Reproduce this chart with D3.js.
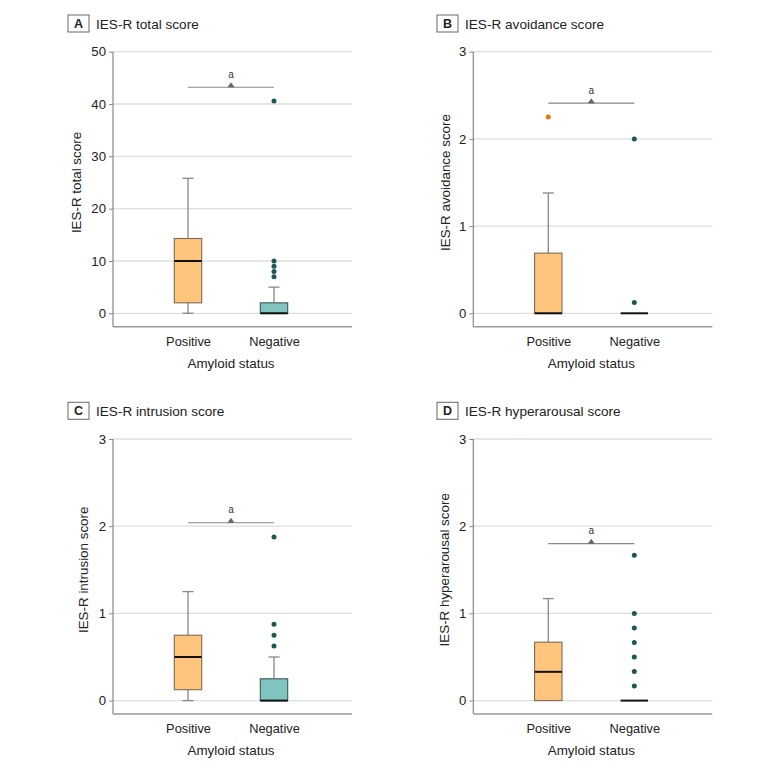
<!DOCTYPE html>
<html>
<head>
<meta charset="utf-8">
<script src="https://cdn.jsdelivr.net/npm/d3@7"></script>
<style>
  html, body { margin: 0; padding: 0; background: #fff; }
  svg { display: block; font-family: "Liberation Sans", Arial, sans-serif; }
</style>
</head>
<body>
<svg id="chart" width="780" height="771"></svg>
<script>
// ---------- data ----------
const categories = ["Positive", "Negative"];
const panelLetters = ["A", "B", "C", "D"];
const panelTitles = ["IES-R total score", "IES-R avoidance score", "IES-R intrusion score", "IES-R hyperarousal score"];
const yAxisTitles = ["IES-R total score", "IES-R avoidance score", "IES-R intrusion score", "IES-R hyperarousal score"];
const xAxisTitle = "Amyloid status";
const yMaxValues = [50, 3, 3, 3];
const yTickValues = [[0, 10, 20, 30, 40, 50], [0, 1, 2, 3], [0, 1, 2, 3], [0, 1, 2, 3]];
// [lower whisker, Q1, median, Q3, upper whisker]
const positiveStats = [[0, 2, 10, 14.3, 25.8], [0, 0, 0, 0.69, 1.38], [0, 0.125, 0.5, 0.75, 1.25], [0, 0, 0.33, 0.67, 1.17]];
const negativeStats = [[0, 0, 0, 2, 5], [0, 0, 0, 0, 0], [0, 0, 0, 0.25, 0.5], [0, 0, 0, 0, 0]];
const positiveOutliers = [[], [2.25], [], []];
const negativeOutliers = [[7, 8, 9, 10, 40.6], [0.125, 2], [0.625, 0.75, 0.875, 1.875], [0.167, 0.333, 0.5, 0.667, 0.833, 1, 1.667]];
const significanceY = [43.2, 2.41, 2.04, 1.8];
const significanceLabel = "a";

// ---------- styles / layout ----------
const boxFill = { Positive: "#FFC57D", Negative: "#80C4C2" };
const boxStroke = { Positive: "#7d6b58", Negative: "#3f5656" };
const outlierFill = { Positive: "#EE7700", Negative: "#1f5757" };

const plotW = 239, plotH = 261.6, axisGap = 13.4;
const colX = [113, 473.3];
const rowY = [51.7, 439];
const boxXOffset = [-45, -36.3];
const yTitleOffset = [37, 28.5, 30, 29];

const svg = d3.select("#chart");

panelLetters.forEach((letter, i) => {
  const col = i % 2, row = Math.floor(i / 2);
  const ox = colX[col], oy = rowY[row];
  const g = svg.append("g").attr("transform", `translate(${ox},${oy})`);

  const y = d3.scaleLinear().domain([0, yMaxValues[i]]).range([plotH, 0]);
  const x = d3.scalePoint().domain(categories).range([75, 161]);
  const boxW = 27.4, capW = 11;

  // panel heading
  const hb = svg.append("g").attr("transform", `translate(${ox + boxXOffset[col]},${oy - 36.7})`);
  hb.append("rect").attr("x", 0).attr("y", 0).attr("width", 21).attr("height", 17)
    .attr("fill", "#fff").attr("stroke", "#666").attr("stroke-width", 1);
  hb.append("text").attr("x", 10.5).attr("y", 13).attr("text-anchor", "middle")
    .attr("font-weight", "bold").attr("font-size", 12.5).attr("fill", "#222").text(letter);
  hb.append("text").attr("x", 28).attr("y", 13.5).attr("font-size", 13.6).attr("fill", "#222")
    .text(panelTitles[i]);

  // gridlines
  g.append("g").selectAll("line").data(yTickValues[i]).join("line")
    .attr("x1", 0).attr("x2", plotW)
    .attr("y1", d => y(d)).attr("y2", d => y(d))
    .attr("stroke", "#dedede").attr("stroke-width", 1.3);

  // y axis
  const yAxis = d3.axisLeft(y).tickValues(yTickValues[i]).tickFormat(d3.format("d"))
    .tickSize(4).tickPadding(3).tickSizeOuter(0);
  const ya = g.append("g").call(yAxis);
  ya.select(".domain").remove();
  ya.selectAll(".tick line").attr("stroke", "#888");
  ya.selectAll(".tick text").attr("font-size", 13.2).attr("fill", "#222")
    .attr("font-family", "'Liberation Sans', Arial, sans-serif");
  g.append("line").attr("x1", 0).attr("x2", 0).attr("y1", 0).attr("y2", plotH + axisGap)
    .attr("stroke", "#888").attr("stroke-width", 1.2);

  // x axis
  const xAxis = d3.axisBottom(x).tickSize(0).tickPadding(8);
  const xa = g.append("g").attr("transform", `translate(0,${plotH + axisGap})`).call(xAxis);
  xa.select(".domain").remove();
  xa.selectAll(".tick text").attr("font-size", 12.8).attr("fill", "#222")
    .attr("font-family", "'Liberation Sans', Arial, sans-serif").attr("dy", "0.85em");
  g.append("line").attr("x1", 0).attr("x2", plotW).attr("y1", plotH + axisGap).attr("y2", plotH + axisGap)
    .attr("stroke", "#999").attr("stroke-width", 1.6);

  // axis titles
  g.append("text").attr("transform", `translate(${-yTitleOffset[i]},${plotH / 2}) rotate(-90)`)
    .attr("text-anchor", "middle").attr("font-size", 13.4).attr("fill", "#222").attr("dy", "0.35em")
    .text(yAxisTitles[i]);
  g.append("text").attr("x", (x("Positive") + x("Negative")) / 2).attr("y", plotH + 54.5)
    .attr("text-anchor", "middle").attr("font-size", 13.4).attr("fill", "#222").text(xAxisTitle);

  // boxes
  const statsFor = { Positive: positiveStats[i], Negative: negativeStats[i] };
  const outFor = { Positive: positiveOutliers[i], Negative: negativeOutliers[i] };
  categories.forEach(cat => {
    const [lo, q1, med, q3, hi] = statsFor[cat];
    const cx = x(cat);
    const bg = g.append("g");
    if (hi > q3) {
      bg.append("line").attr("x1", cx).attr("x2", cx).attr("y1", y(q3)).attr("y2", y(hi))
        .attr("stroke", "#888").attr("stroke-width", 1.3);
      bg.append("line").attr("x1", cx - capW / 2).attr("x2", cx + capW / 2).attr("y1", y(hi)).attr("y2", y(hi))
        .attr("stroke", "#888").attr("stroke-width", 1.3);
    }
    if (lo < q1) {
      bg.append("line").attr("x1", cx).attr("x2", cx).attr("y1", y(q1)).attr("y2", y(lo))
        .attr("stroke", "#888").attr("stroke-width", 1.3);
      bg.append("line").attr("x1", cx - capW / 2).attr("x2", cx + capW / 2).attr("y1", y(lo)).attr("y2", y(lo))
        .attr("stroke", "#888").attr("stroke-width", 1.3);
    }
    if (q3 > q1) {
      bg.append("rect").attr("x", cx - boxW / 2).attr("width", boxW)
        .attr("y", y(q3)).attr("height", y(q1) - y(q3))
        .attr("fill", boxFill[cat]).attr("stroke", boxStroke[cat]).attr("stroke-width", 1.1);
    }
    bg.append("line").attr("x1", cx - boxW / 2).attr("x2", cx + boxW / 2).attr("y1", y(med)).attr("y2", y(med))
      .attr("stroke", "#111").attr("stroke-width", 2);
    bg.selectAll("circle").data(outFor[cat]).join("circle")
      .attr("cx", cx).attr("cy", d => y(d)).attr("r", 2.5).attr("fill", outlierFill[cat]);
  });

  // significance bracket
  const sy = y(significanceY[i]);
  const x1 = x("Positive"), x2 = x("Negative"), mx = (x1 + x2) / 2;
  g.append("line").attr("x1", x1).attr("x2", x2).attr("y1", sy).attr("y2", sy)
    .attr("stroke", "#888").attr("stroke-width", 1.1);
  g.append("path").attr("d", `M${mx - 3.5},${sy} L${mx + 3.5},${sy} L${mx},${sy - 5} Z`).attr("fill", "#666");
  g.append("text").attr("x", mx).attr("y", sy - 9.5).attr("text-anchor", "middle")
    .attr("font-size", 10).attr("fill", "#333").text(significanceLabel);
});
</script>
</body>
</html>
